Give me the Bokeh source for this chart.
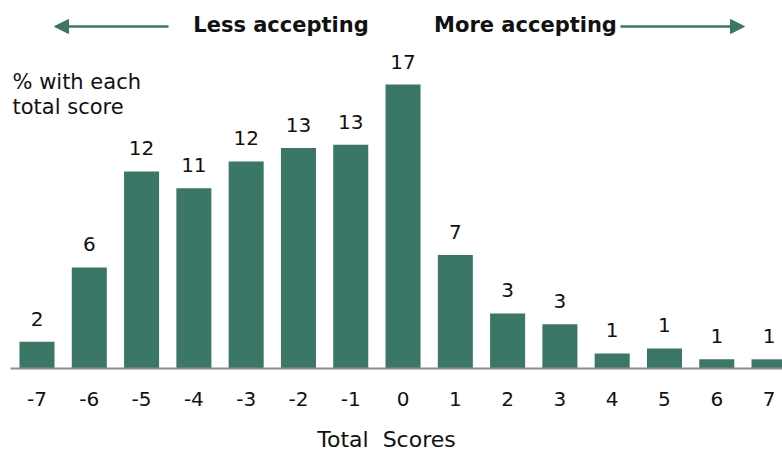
from bokeh.plotting import figure
from bokeh.models import (ColumnDataSource, Range1d, Label, Arrow,
                          NormalHead, Segment)
from bokeh.core.properties import value
from bokeh.embed import file_html
from bokeh.resources import INLINE

# Distribution of total scores (% of respondents with each score)
scores = [-7, -6, -5, -4, -3, -2, -1, 0, 1, 2, 3, 4, 5, 6, 7]
percent = [1.6, 6.05, 11.8, 10.8, 12.4, 13.2, 13.4, 17.0, 6.8, 3.3, 2.65, 0.9, 1.2, 0.55, 0.55]
labels = [str(int(v + 0.5)) for v in percent]
tick_text = [str(s) for s in scores]

BAR = "#3a7767"
INK = "#111111"
FONT = "DejaVu Sans"

W, H = 782, 452
BASE_PX = 368          # vertical pixel position of the zero line
PX_PER_X = 52.29
PX_PER_Y = 16.7
X0 = -7 - 36.5 / PX_PER_X
X1 = X0 + W / PX_PER_X


def dx(px):
    return X0 + px / PX_PER_X


def dy(py):
    return (BASE_PX - py) / PX_PER_Y


src = ColumnDataSource(dict(x=scores, top=percent, lab=labels))
ticks = ColumnDataSource(dict(x=scores, y=[0] * len(scores), t=tick_text))

p = figure(width=W, height=H, output_backend="svg", toolbar_location=None,
           x_range=Range1d(X0, X1), y_range=Range1d(dy(H), dy(0)),
           min_border=0)
p.outline_line_color = None
p.grid.visible = False
p.axis.visible = False
p.background_fill_color = "white"
p.border_fill_color = "white"

p.vbar(x="x", top="top", width=0.67, bottom=0, source=src,
       fill_color=BAR, line_color=None)

p.text(x="x", y="top", text="lab", source=src, text_align="center",
       text_baseline="middle", y_offset=-23, text_font=value(FONT),
       text_font_size="20px", text_color=INK)

# zero line
p.add_glyph(ColumnDataSource(dict(x0=[dx(10)], x1=[X1], y=[0])),
            Segment(x0="x0", y0="y", x1="x1", y1="y", line_color="#8c8c8c",
                    line_width=2))

# score labels under each bar
p.text(x="x", y="y", text="t", source=ticks, text_align="center",
       text_baseline="middle", y_offset=30,
       text_font=value(FONT), text_font_size="20px", text_color=INK)

p.add_layout(Label(x=dx(386), y=dy(439), text="Total\u00a0 Scores",
                   text_align="center", text_baseline="middle",
                   text_font=FONT, text_font_size="22px", text_color=INK))

# direction header
for txt, cx in [("Less accepting", 280.5), ("More accepting", 525)]:
    p.add_layout(Label(x=dx(cx), y=dy(24.4), text=txt, text_align="center",
                       text_baseline="middle", text_font=FONT,
                       text_font_size="21px", text_font_style="bold",
                       text_color=INK))

p.add_layout(Arrow(x_start=dx(168), y_start=dy(26), x_end=dx(54), y_end=dy(26),
                   line_color=BAR, line_width=2.5,
                   end=NormalHead(size=14, fill_color=BAR, line_color=BAR)))
p.add_layout(Arrow(x_start=dx(620), y_start=dy(26), x_end=dx(744), y_end=dy(26),
                   line_color=BAR, line_width=2.5,
                   end=NormalHead(size=14, fill_color=BAR, line_color=BAR)))

for txt, py in [("% with each", 81), ("total score", 106.5)]:
    p.add_layout(Label(x=dx(12), y=dy(py), text=txt, text_align="left",
                       text_baseline="middle", text_font=FONT,
                       text_font_size="21px", text_color=INK))

open("out.html", "w").write(file_html(p, INLINE))
